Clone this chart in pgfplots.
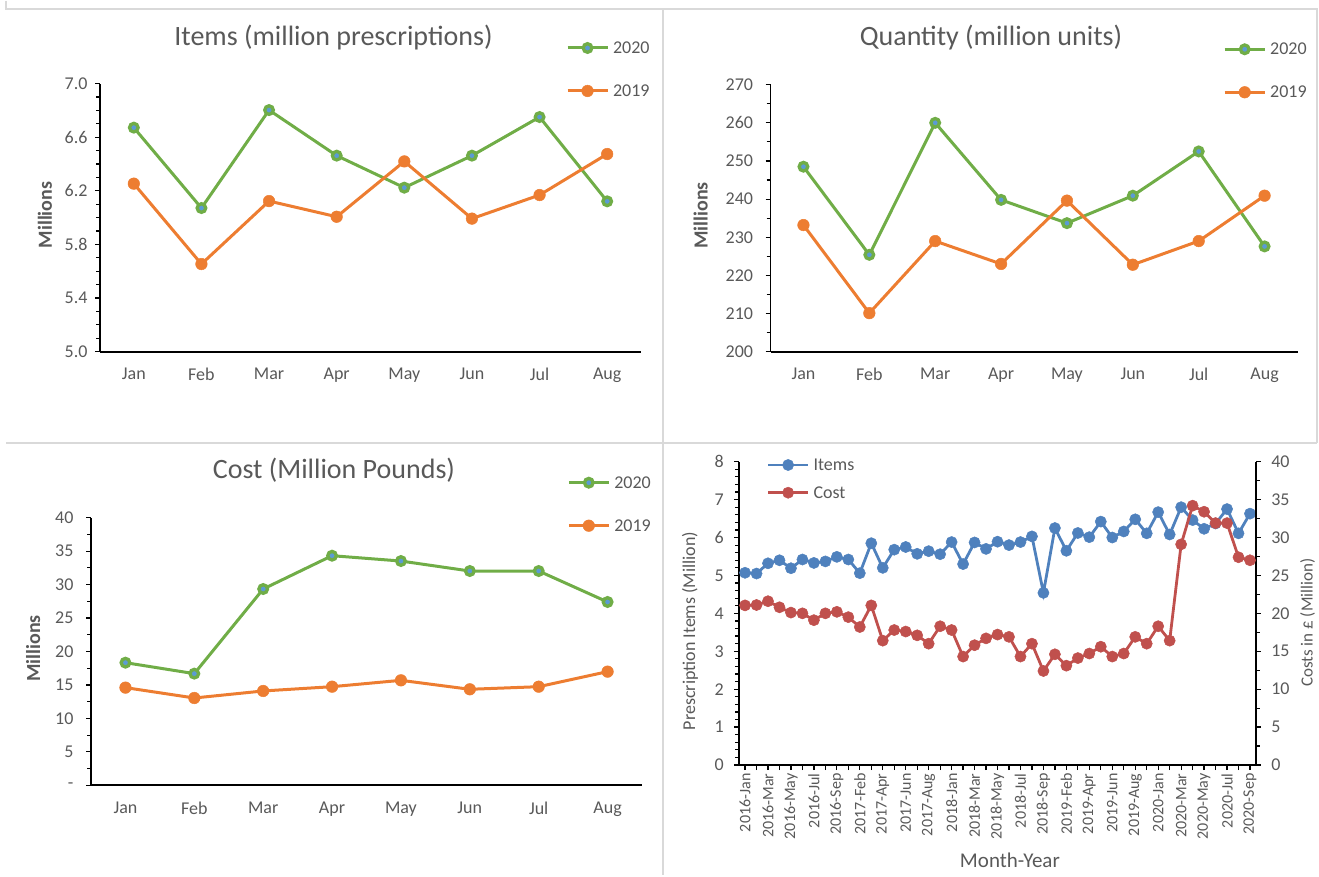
\documentclass[border=0pt]{standalone}
\usepackage{fontspec}
\setmainfont{Carlito}
\usepackage{pgfplots}
\pgfplotsset{compat=1.18}
\definecolor{cgreen}{HTML}{70AD47}
\definecolor{corange}{HTML}{ED7D31}
\definecolor{cblue}{HTML}{5B9BD5}
\definecolor{iblue}{HTML}{4F81BD}
\definecolor{cred}{HTML}{C0504D}
\definecolor{tgrey}{HTML}{595959}
\definecolor{fgrey}{HTML}{D9D9D9}

\pgfplotsset{
  base/.style={
    scale only axis, clip=false,
    axis line style={black, line width=1.8bp, -},
    every tick/.style={black, line width=1.2bp},
    tick align=outside,
    major tick length=5bp, minor tick length=4bp,
    tick label style={font=\fontsize{18bp}{21bp}\selectfont, text=tgrey},
    legend image code/.code={\draw[mark repeat=2, mark phase=2, ##1] plot coordinates {(0bp,0bp) (20bp,0bp) (40bp,0bp)};},
    legend style={draw=none, fill=none, inner sep=0bp, outer sep=0bp, anchor=north west,
      font=\fontsize{18bp}{21bp}\selectfont, text=tgrey,
      nodes={inner sep=0bp, text height=13bp, text depth=2bp}, column sep=4bp},
    legend cell align=left,
    ylabel style={font=\fontsize{20bp}{24bp}\selectfont, text=tgrey, anchor=center},
    title style={font=\fontsize{28bp}{32bp}\selectfont, text=tgrey, anchor=base},
  },
  panel/.style={
    base,
    axis x line*=bottom, axis y line*=left,
    xmin=-0.5, xmax=7.5, xtick={0,...,7},
    xticklabels={Jan,Feb,Mar,Apr,May,Jun,Jul,Aug},
    x tick style={draw=none},
    xticklabel style={yshift=-8bp},
    ylabel style={font=\fontsize{20bp}{24bp}\selectfont\bfseries},
    legend style={row sep=28bp},
  },
  s2020/.style={cgreen, line width=3bp, mark=*, mark size=4.3bp,
    mark options={fill=cblue, draw=cgreen, line width=3.3bp}},
  s2019/.style={corange, line width=3bp, mark=*, mark size=5.8bp,
    mark options={fill=corange, draw=corange, line width=0.5bp}},
  sitems/.style={iblue, line width=2.8bp, mark=*, mark size=5.6bp,
    mark options={fill=iblue, draw=iblue, line width=0.5bp}},
  scost/.style={cred, line width=2.8bp, mark=*, mark size=5.6bp,
    mark options={fill=cred, draw=cred, line width=0.5bp}},
}

\begin{document}
\begin{tikzpicture}[x=1bp,y=1bp]
\path (0,0) rectangle (1319,874);
\draw[fgrey, line width=2bp] (6,874) -- (6,866) -- (1317,866) -- (1317,432);
\draw[fgrey, line width=2bp] (6,432) -- (1317,432);
\draw[fgrey, line width=2bp] (663,866) -- (663,0);

% ---------- Items (top left)
\begin{axis}[panel,
  at={(100bp,523.3bp)}, anchor=south west, width=541bp, height=268bp,
  ymin=5, ymax=7, ytick={5,5.4,5.8,6.2,6.6,7},
  yticklabels={5.0,5.4,5.8,6.2,6.6,7.0}, minor y tick num=3,
  yticklabel style={xshift=-4bp},
  ylabel={Millions}, ylabel style={at={(axis description cs:-0.1017,0.51)}},
  title={Items (million prescriptions)}, title style={at={(axis description cs:0.4316,1.122)}},
  legend style={at={(axis description cs:0.8614,1.1612)}},
]
\addplot[s2020] coordinates {(0,6.672) (1,6.072) (2,6.803) (3,6.463) (4,6.224) (5,6.463) (6,6.751) (7,6.122)};
\addlegendentry{2020}
\addplot[s2019] coordinates {(0,6.254) (1,5.654) (2,6.124) (3,6.007) (4,6.420) (5,5.993) (6,6.169) (7,6.475)};
\addlegendentry{2019}
\end{axis}

% ---------- Quantity (top right)
\begin{axis}[panel,
  at={(770.5bp,523.3bp)}, anchor=south west, width=527bp, height=267bp,
  ymin=200, ymax=270, ytick={200,210,...,270}, minor y tick num=1,
  yticklabels={200,210,220,230,240,250,260,270},
  yticklabel style={xshift=-9bp},
  ylabel={Millions}, ylabel style={at={(axis description cs:-0.1323,0.51)}},
  title={Quantity (million units)}, title style={at={(axis description cs:0.4184,1.126)}},
  legend style={at={(axis description cs:0.859,1.1607)}},
]
\addplot[s2020] coordinates {(0,248.5) (1,225.4) (2,260.0) (3,239.8) (4,233.7) (5,240.9) (6,252.5) (7,227.6)};
\addlegendentry{2020}
\addplot[s2019] coordinates {(0,233.2) (1,210.1) (2,229.0) (3,223.0) (4,239.6) (5,222.8) (6,229.0) (7,240.9)};
\addlegendentry{2019}
\end{axis}

% ---------- Cost (bottom left)
\begin{axis}[panel,
  at={(91bp,89.7bp)}, anchor=south west, width=551bp, height=267.6bp,
  ymin=0, ymax=40, ytick={0,5,...,40}, minor y tick num=1,
  yticklabels={-,5,10,15,20,25,30,35,40},
  yticklabel style={xshift=-9bp},
  ylabel={Millions}, ylabel style={at={(axis description cs:-0.105,0.511)}},
  title={Cost (Million Pounds)}, title style={at={(axis description cs:0.441,1.125)}},
  legend style={at={(axis description cs:0.8644,1.1588)}},
]
\addplot[s2020] coordinates {(0,18.33) (1,16.69) (2,29.34) (3,34.32) (4,33.52) (5,32.03) (6,32.03) (7,27.40)};
\addlegendentry{2020}
\addplot[s2019] coordinates {(0,14.60) (1,13.05) (2,14.10) (3,14.74) (4,15.69) (5,14.35) (6,14.74) (7,16.99)};
\addlegendentry{2019}
\end{axis}

% ---------- Items and cost 2016-2020 (bottom right)
\begin{axis}[base,
  at={(739.3bp,110bp)}, anchor=south west, width=516.4bp, height=303.3bp,
  axis x line*=bottom, axis y line*=left,
  xmin=0.5, xmax=45.5,
  xtick={1,...,45},
  xticklabels={2016-Jan,,2016-Mar,,2016-May,,2016-Jul,,2016-Sep,,2017-Feb,,2017-Apr,,2017-Jun,,2017-Aug,,2018-Jan,,2018-Mar,,2018-May,,2018-Jul,,2018-Sep,,2019-Feb,,2019-Apr,,2019-Jun,,2019-Aug,,2020-Jan,,2020-Mar,,2020-May,,2020-Jul,,2020-Sep},
  xticklabel style={rotate=90, anchor=east, font=\fontsize{16bp}{19bp}\selectfont},
  ymin=0, ymax=8, ytick={0,...,8}, minor y tick num=4,
  yticklabels={0,1,2,3,4,5,6,7,8},
  yticklabel style={xshift=-7bp},
  ylabel={Prescription Items (Million)},
  ylabel style={at={(axis description cs:-0.0955,0.442)}, font=\fontsize{18bp}{22bp}\selectfont},
  xlabel={Month-Year},
  xlabel style={at={(axis description cs:0.524,-0.313)}, anchor=center, font=\fontsize{21bp}{25bp}\selectfont, text=tgrey},
]
\addplot[sitems] coordinates {
(1,5.07) (2,5.05) (3,5.32) (4,5.40) (5,5.19) (6,5.42) (7,5.33) (8,5.37) (9,5.49) (10,5.42)
(11,5.06) (12,5.85) (13,5.20) (14,5.68) (15,5.75) (16,5.57) (17,5.64) (18,5.56) (19,5.88) (20,5.30)
(21,5.87) (22,5.70) (23,5.89) (24,5.80) (25,5.88) (26,6.03) (27,4.54) (28,6.25) (29,5.65) (30,6.12)
(31,6.01) (32,6.42) (33,6.00) (34,6.16) (35,6.48) (36,6.11) (37,6.67) (38,6.08) (39,6.80) (40,6.46)
(41,6.23) (42,6.37) (43,6.75) (44,6.11) (45,6.63)};
\end{axis}
\begin{axis}[base,
  at={(739.3bp,110bp)}, anchor=south west, width=516.4bp, height=303.3bp,
  axis x line=none, axis y line*=right,
  xmin=0.5, xmax=45.5,
  ymin=0, ymax=40, ytick={0,5,...,40}, minor y tick num=1,
  yticklabels={0,5,10,15,20,25,30,35,40},
  yticklabel style={xshift=7bp},
  ylabel={Costs in £ (Million)},
  ylabel style={at={(axis description cs:1.1003,0.469)}, font=\fontsize{17bp}{21bp}\selectfont},
  legend style={at={(axis description cs:0.0531,1.0138)}, row sep=12.7bp},
]
\addlegendimage{sitems}
\addlegendentry{Items}
\addplot[scost] coordinates {
(1,21.05) (2,21.1) (3,21.6) (4,20.8) (5,20.1) (6,20.0) (7,19.1) (8,20.0) (9,20.2) (10,19.5)
(11,18.2) (12,21.05) (13,16.4) (14,17.8) (15,17.6) (16,17.1) (17,16.0) (18,18.3) (19,17.8) (20,14.3)
(21,15.8) (22,16.7) (23,17.2) (24,16.9) (25,14.3) (26,16.0) (27,12.4) (28,14.6) (29,13.1) (30,14.1)
(31,14.7) (32,15.6) (33,14.3) (34,14.7) (35,16.9) (36,16.0) (37,18.3) (38,16.4) (39,29.1) (40,34.2)
(41,33.4) (42,31.9) (43,31.9) (44,27.4) (45,27.0)};
\addlegendentry{Cost}
\end{axis}
\end{tikzpicture}
\end{document}
